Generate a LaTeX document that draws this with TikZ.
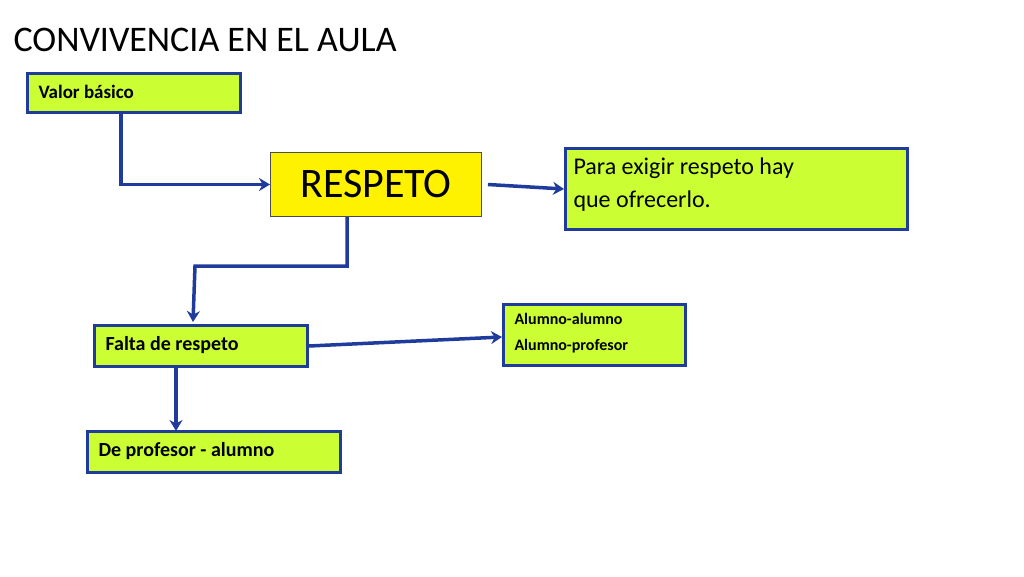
\documentclass[tikz,border=0pt]{standalone}
\usepackage{fontspec}
\setmainfont{Carlito}
\usetikzlibrary{arrows.meta}
\definecolor{lineblue}{HTML}{1F3C9C}
\definecolor{limefill}{HTML}{CCFF33}

\begin{document}
\begin{tikzpicture}[x=1pt,y=-1pt,
    greenbox/.style={draw=lineblue, line width=3pt, fill=limefill, anchor=north west,
      inner sep=0pt, text depth=0pt},
    link/.style={draw=lineblue, line width=3.5pt, -{Stealth[length=11pt,width=13pt]}}]
  \useasboundingbox[fill=white] (0,0) rectangle (1024,576);

  \node[anchor=west, font=\fontsize{36}{40}\selectfont] (title) at (10,40) {CONVIVENCIA EN EL AULA};

  % boxes
  \node[greenbox, minimum width=213pt, minimum height=39pt] (valor) at (26,72) {};
  \node[anchor=west, font=\bfseries\fontsize{19}{22}\selectfont] at (35,92) {Valor básico};

  \node[draw=black!70, line width=1pt, fill=yellow, anchor=north west,
    minimum width=211pt, minimum height=64pt, font=\fontsize{42}{46}\selectfont] (respeto) at (270,152) {RESPETO};

  \node[greenbox, minimum width=342pt, minimum height=81pt] (para) at (564,147) {};
  \node[anchor=north west, align=left, font=\fontsize{24}{33}\selectfont] at (570,154)
    {Para exigir respeto hay\\que ofrecerlo.};

  \node[greenbox, minimum width=213pt, minimum height=41pt] (falta) at (93,324) {};
  \node[anchor=west, font=\bfseries\fontsize{20}{24}\selectfont] at (102,345) {Falta de respeto};

  \node[greenbox, minimum width=182pt, minimum height=61pt] (alumno) at (502,303) {};
  \node[anchor=north west, align=left, font=\bfseries\fontsize{16}{26}\selectfont] at (511,310)
    {Alumno-alumno\\Alumno-profesor};

  \node[greenbox, minimum width=253pt, minimum height=41pt] (profesor) at (86,430) {};
  \node[anchor=west, font=\bfseries\fontsize{20}{24}\selectfont] at (95,451) {De profesor - alumno};

  % connectors
  \draw[link] (valor.south west) ++(95,0) |- (respeto.west);
  \draw[link] ([xshift=6pt]respeto.east) -- (para.west);
  \draw[link] (respeto.south west) ++(77,0) -- ++(0,49) -- ++(-152,0) -- ++(-2,56);
  \draw[link] (falta.east) -- ([yshift=-2pt]alumno.west);
  \draw[link] (falta.south west) ++(83,0) -- ++(0,63);
\end{tikzpicture}
\end{document}
